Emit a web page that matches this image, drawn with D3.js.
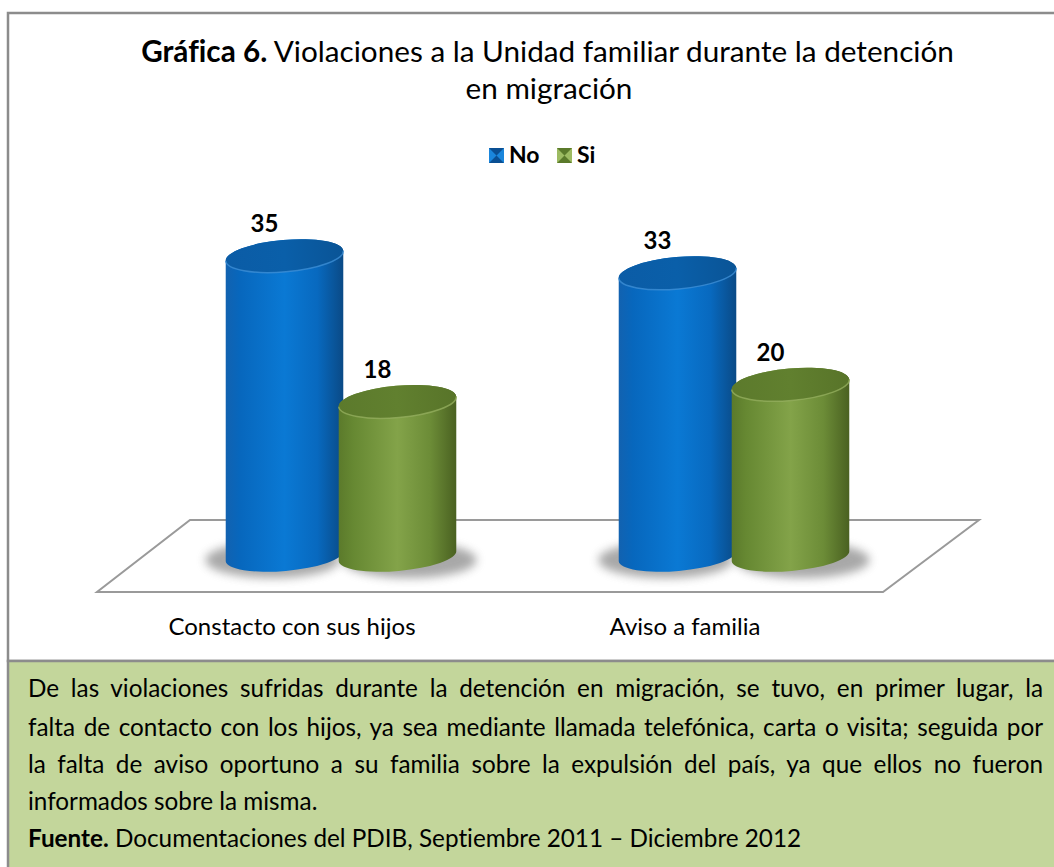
<!DOCTYPE html>
<html>
<head>
<meta charset="utf-8">
<script src="https://cdn.jsdelivr.net/npm/d3@7"></script>
<style>
  body { margin: 0; background: #ffffff; }
  svg { display: block; font-family: Lato, "Open Sans", sans-serif; font-variant-ligatures: none; }
</style>
</head>
<body>
<div class="chart"></div>
<script>
// data
var categories = ["Constacto con sus hijos", "Aviso a familia"];
var series = ["No", "Si"];
var valuesNo = [35, 33];
var valuesSi = [18, 20];
var noteLines = [
  "De las violaciones sufridas durante la detención en migración, se tuvo, en primer lugar, la",
  "falta de contacto con los hijos, ya sea mediante llamada telefónica, carta o visita; seguida por",
  "la falta de aviso oportuno a su familia sobre la expulsión del país, ya que ellos no fueron",
  "informados sobre la misma."
];
var sourceText = " Documentaciones del PDIB, Septiembre 2011 – Diciembre 2012";

var width = 1054, height = 867;

var svg = d3.select(".chart")
  .append("svg")
    .attr("width", width)
    .attr("height", height);

var defs = svg.append("defs");

// gradients for the cylinders
function hGrad(id, stops) {
  var g = defs.append("linearGradient")
    .attr("id", id)
    .attr("x1", 0).attr("x2", 1).attr("y1", 0).attr("y2", 0);
  stops.forEach(function(s) {
    g.append("stop").attr("offset", s[0]).attr("stop-color", s[1]);
  });
}
hGrad("bodyNo", [[0, "#1262b0"], [0.12, "#0767bd"], [0.5, "#0a79d4"], [0.78, "#0869bf"], [1, "#0a4a86"]]);
hGrad("bodySi", [[0, "#5b7a2b"], [0.12, "#668832"], [0.5, "#83a349"], [0.78, "#6c8c37"], [1, "#4a6121"]]);
hGrad("topNo", [[0, "#0b5ca6"], [0.5, "#0a5fa9"], [1, "#0a5496"]]);
hGrad("topSi", [[0, "#5c7a2c"], [0.5, "#61802f"], [1, "#587429"]]);

var blur = defs.append("filter").attr("id", "shadow")
  .attr("x", "-50%").attr("y", "-100%").attr("width", "200%").attr("height", "300%");
blur.append("feGaussianBlur").attr("stdDeviation", 5);

// chart frame and note box
svg.append("rect")
  .attr("x", 8).attr("y", 13)
  .attr("width", 1060).attr("height", 648)
  .attr("fill", "#ffffff")
  .attr("stroke", "#8c8c8c")
  .attr("stroke-width", 2.5);

svg.append("rect")
  .attr("x", 8).attr("y", 661)
  .attr("width", 1060).attr("height", 220)
  .attr("fill", "#c3d69b")
  .attr("stroke", "#8c8c8c")
  .attr("stroke-width", 2.5);

// fit a text element to a width by changing its font size
function fitWidth(sel, target) {
  var w = sel.node().getComputedTextLength();
  var fs = parseFloat(sel.attr("font-size"));
  sel.attr("font-size", fs * target / w);
  return fs * target / w;
}

// title
var title1 = svg.append("text")
  .attr("x", 547.5).attr("y", 62)
  .attr("text-anchor", "middle")
  .attr("font-size", 26)
  .attr("fill", "#000");
title1.append("tspan").attr("font-weight", "bold").text("Gráfica 6.");
title1.append("tspan").text(" Violaciones a la Unidad familiar durante la detención");
var titleSize = fitWidth(title1, 813);

svg.append("text")
  .attr("x", 549).attr("y", 99)
  .attr("text-anchor", "middle")
  .attr("font-size", titleSize)
  .attr("fill", "#000")
  .text("en migración");

// scales
var x0 = d3.scalePoint()
  .domain(categories)
  .range([144.5, 930.5])
  .padding(0.5);

var x1 = d3.scalePoint()
  .domain(series)
  .range([-56.5, 56.5]);

var y = d3.scaleLinear()
  .domain([0, 40])
  .range([556, 213]);

// floor
var floorTop = 520, floorBottom = 592;
var r = x0.range();
svg.append("path")
  .attr("d", "M" + (r[0] + 45.5) + "," + floorTop +
             "L" + (r[1] + 48.5) + "," + floorTop +
             "L" + (r[1] - 47.5) + "," + floorBottom +
             "L" + (r[0] - 47.5) + "," + floorBottom + "Z")
  .attr("fill", "#ffffff")
  .attr("stroke", "#9a9a9a")
  .attr("stroke-width", 2);

// bar data
var bars = [];
categories.forEach(function(c, i) {
  bars.push({ cat: c, ser: "No", value: valuesNo[i] });
  bars.push({ cat: c, ser: "Si", value: valuesSi[i] });
});

var rx = 59, ryTop = 16, ryBot = 15, tilt = -5;
var rad = tilt * Math.PI / 180;

function cx(d) { return x0(d.cat) + x1(d.ser); }

// shadows
svg.selectAll(".shadow")
  .data(bars)
  .enter()
  .append("ellipse")
    .attr("class", "shadow")
    .attr("cx", function(d) { return cx(d) + (d.ser === "No" ? -12 : 12); })
    .attr("cy", y(0) + 4)
    .attr("rx", rx + 8)
    .attr("ry", 18)
    .attr("fill", "#7a7a7a")
    .attr("opacity", 0.65)
    .attr("filter", "url(#shadow)");

// cylinders
var cyl = svg.selectAll(".cyl")
  .data(bars)
  .enter()
  .append("g")
    .attr("class", "cyl");

cyl.append("path")
  .attr("d", function(d) {
    var c = cx(d), yt = y(d.value), yb = y(0);
    var dx = rx * Math.cos(rad), dy = rx * Math.sin(rad);
    return "M" + (c - dx) + "," + (yt - dy) +
           "L" + (c - dx) + "," + (yb - dy) +
           "A" + rx + "," + ryBot + " " + tilt + " 0 0 " + (c + dx) + "," + (yb + dy) +
           "L" + (c + dx) + "," + (yt + dy) +
           "A" + rx + "," + ryTop + " " + tilt + " 0 0 " + (c - dx) + "," + (yt - dy) + "Z";
  })
  .attr("fill", function(d) { return "url(#body" + d.ser + ")"; });

cyl.append("ellipse")
  .attr("cx", 0).attr("cy", 0)
  .attr("rx", rx).attr("ry", ryTop)
  .attr("transform", function(d) {
    return "translate(" + cx(d) + "," + y(d.value) + ") rotate(" + tilt + ")";
  })
  .attr("fill", function(d) { return "url(#top" + d.ser + ")"; });

// light rim on the front of the top
cyl.append("path")
  .attr("d", function(d) {
    var c = cx(d), yt = y(d.value);
    var dx = rx * Math.cos(rad), dy = rx * Math.sin(rad);
    return "M" + (c - dx) + "," + (yt - dy) +
           "A" + rx + "," + ryTop + " " + tilt + " 0 0 " + (c + dx) + "," + (yt + dy);
  })
  .attr("fill", "none")
  .attr("stroke", function(d) { return d.ser === "No" ? "#3d8fd6" : "#93ae5e"; })
  .attr("stroke-width", 1.5)
  .attr("opacity", 0.8);

// value labels
svg.selectAll(".vlabel")
  .data(bars)
  .enter()
  .append("text")
    .attr("class", "vlabel")
    .attr("x", function(d) { return cx(d) - 20; })
    .attr("y", function(d) { return y(d.value) - 24; })
    .attr("text-anchor", "middle")
    .attr("font-size", 24)
    .attr("font-weight", "bold")
    .attr("fill", "#000")
    .text(function(d) { return d.value; });

// category labels
svg.selectAll(".clabel")
  .data(categories)
  .enter()
  .append("text")
    .attr("class", "clabel")
    .attr("x", function(d) { return x0(d) - 49; })
    .attr("y", 635)
    .attr("text-anchor", "middle")
    .attr("font-size", 24)
    .attr("fill", "#000")
    .text(function(d) { return d; });

// legend
var legendX = [489, 557];
var legendColors = { No: ["#0a4f93", "#1a86dc"], Si: ["#5b7a2b", "#9dbb62"] };
var leg = svg.selectAll(".legend")
  .data(series)
  .enter()
  .append("g")
    .attr("class", "legend")
    .attr("transform", function(d, i) { return "translate(" + legendX[i] + ",148)"; });

leg.append("rect")
  .attr("width", 15).attr("height", 15)
  .attr("fill", function(d) { return legendColors[d][0]; });
leg.append("path")
  .attr("d", "M0,0L7.5,7.5L0,15Z M15,0L7.5,7.5L15,15Z")
  .attr("fill", function(d) { return legendColors[d][1]; });
leg.append("text")
  .attr("x", 20).attr("y", 15)
  .attr("font-size", 23)
  .attr("font-weight", "bold")
  .attr("fill", "#000")
  .text(function(d) { return d; });

// note text
var noteLeft = 28, noteRight = 1043;
var noteBase = [697, 736, 773, 810];

var probe = svg.append("text")
  .attr("x", noteLeft).attr("y", noteBase[1])
  .attr("font-size", 22)
  .text(noteLines[1]);
var noteSize = fitWidth(probe, (noteRight - noteLeft) * 0.965);
probe.remove();

noteLines.forEach(function(line, i) {
  var t = svg.append("text")
    .attr("x", noteLeft).attr("y", noteBase[i])
    .attr("font-size", noteSize)
    .attr("fill", "#000")
    .text(line);
  if (i < noteLines.length - 1) {
    var w = t.node().getComputedTextLength();
    var gaps = line.split(" ").length - 1;
    t.style("word-spacing", ((noteRight - noteLeft - w) / gaps) + "px");
  }
});

var src = svg.append("text")
  .attr("x", noteLeft).attr("y", 847)
  .attr("font-size", noteSize)
  .attr("fill", "#000");
src.append("tspan").attr("font-weight", "bold").text("Fuente.");
src.append("tspan").text(sourceText);
</script>
</body>
</html>
